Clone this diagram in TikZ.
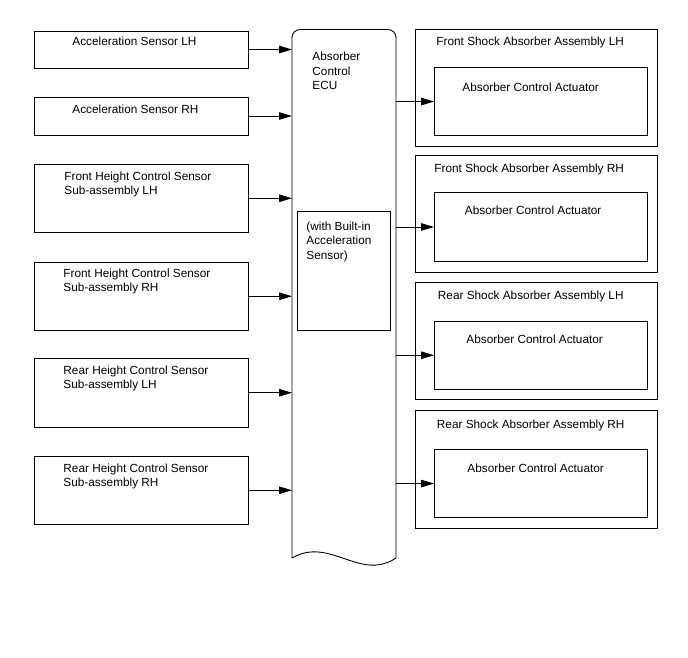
\documentclass[tikz,border=0pt]{standalone}
\usepackage{fontspec}
\setmainfont{Liberation Sans}
\usepackage{tikz}
\usetikzlibrary{positioning,arrows.meta,calc}

\begin{document}
\begin{tikzpicture}[x=1pt, y=-1pt, line width=0.9pt,
  font=\fontsize{11.8}{14.5}\selectfont,
  box/.style={draw, anchor=north west, inner sep=0pt, outer sep=0pt},
  txt/.style={anchor=north west, inner sep=0pt, align=left},
  sig/.style={-{Triangle[length=13pt, width=7.5pt]}}]
\useasboundingbox (0,0) rectangle (688,658);
% sensors
\node[box, minimum width=213.5, minimum height=37] (s1) at (34.5,31) {};
\node[box, minimum width=213.5, minimum height=38] (s2) at (34.5,97) {};
\node[box, minimum width=213.5, minimum height=68.5] (s3) at (34.5,164) {};
\node[box, minimum width=213.5, minimum height=68.5] (s4) at (34.5,262) {};
\node[box, minimum width=213.5, minimum height=68.5] (s5) at (34.5,358.5) {};
\node[box, minimum width=213.5, minimum height=68.5] (s6) at (34.5,456) {};
\node[txt] (ts1) at (72,37) {Acceleration Sensor LH};
\node[txt] (ts2) at (72,105) {Acceleration Sensor RH};
\node[txt] (ts3) at (64,171) {Front Height Control Sensor\\Sub-assembly LH};
\node[txt] (ts4) at (63,268) {Front Height Control Sensor\\Sub-assembly RH};
\node[txt] (ts5) at (63,365) {Rear Height Control Sensor\\Sub-assembly LH};
\node[txt] (ts6) at (63,463) {Rear Height Control Sensor\\Sub-assembly RH};
% ECU
\node[anchor=north west, inner sep=0pt, outer sep=0pt, minimum width=104, minimum height=529] (ecu) at (292,29.5) {};
\draw[rounded corners=8pt] (292,558) -- (ecu.north west) -- (ecu.north east) -- (396,558);
\draw (292,558) .. controls (330,536) and (360,582) .. (396,558);
\node[txt] (tecu) at (312,52) {Absorber\\Control\\ECU};
\node[box, minimum width=92.5, minimum height=119] (acc) at (297.5,211.5) {};
\node[txt] (tacc) at (306,221) {(with Built-in\\Acceleration\\Sensor)};
% shock absorbers
\node[box, minimum width=241.5, minimum height=117.5] (a1) at (415.5,29.3) {};
\node[box, minimum width=241.5, minimum height=117.5] (a2) at (415.5,155) {};
\node[box, minimum width=241.5, minimum height=117.5] (a3) at (415.5,282.3) {};
\node[box, minimum width=241.5, minimum height=117.5] (a4) at (415.5,410.5) {};
\node[box, minimum width=213.5, minimum height=68.5] (c1) at (434,67.3) {};
\node[box, minimum width=213.5, minimum height=68.5] (c2) at (434,192.7) {};
\node[box, minimum width=213.5, minimum height=68.5] (c3) at (434,321) {};
\node[box, minimum width=213.5, minimum height=68.5] (c4) at (434,449.3) {};
\node[txt] (ta1) at (436,37) {Front Shock Absorber Assembly LH};
\node[txt] (ta2) at (434,163) {Front Shock Absorber Assembly RH};
\node[txt] (ta3) at (437.5,290) {Rear Shock Absorber Assembly LH};
\node[txt] (ta4) at (436.5,419) {Rear Shock Absorber Assembly RH};
\node[txt] (tc1) at (462,83) {Absorber Control Actuator};
\node[txt] (tc2) at (464.5,205) {Absorber Control Actuator};
\node[txt] (tc3) at (466,334) {Absorber Control Actuator};
\node[txt] (tc4) at (467,463.5) {Absorber Control Actuator};
% signals
\foreach \i in {1,...,6}
  \draw[sig] (s\i.east) -- (ecu.west |- s\i.east);
\foreach \i in {1,...,4}
  \draw[sig] (ecu.east |- c\i.west) -- (c\i.west);
\end{tikzpicture}
\end{document}
